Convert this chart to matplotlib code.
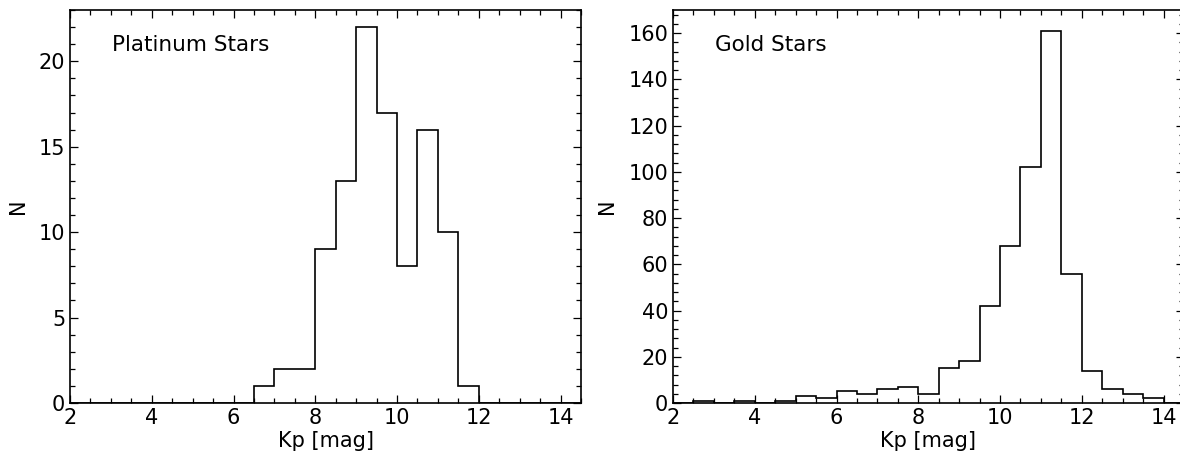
import numpy as np
import matplotlib
matplotlib.use("Agg")
import matplotlib.pyplot as plt
from matplotlib.ticker import MultipleLocator

bin_edges = np.arange(2.0, 14.51, 0.5)

# Counts per 0.5 mag bin starting at Kp = 2.0
platinum_counts = [0, 0, 0, 0, 0, 0, 0, 0, 0,   # 2.0 - 6.5
                   1, 2, 2, 9, 13, 22, 17, 8, 16, 10, 1,  # 6.5 - 12.0
                   0, 0, 0, 0, 0]               # 12.0 - 14.5
gold_counts = [0, 1, 0, 1, 0, 1, 3, 2, 5, 4, 6, 7, 4, 15, 18, 42, 68, 102, 161, 56,
               14, 6, 4, 2, 0]

panel_titles = ["Platinum Stars", "Gold Stars"]
xlabel = "Kp [mag]"
ylabel = "N"

plt.rcParams['font.family'] = ['DejaVu Sans']
plt.rcParams['font.size'] = 15

fig = plt.figure(figsize=(11.8, 4.58), dpi=100)
W, H = 1180, 458
ax1 = fig.add_axes([70 / W, 55 / H, 511 / W, 393 / H])
ax2 = fig.add_axes([673 / W, 55 / H, 511 / W, 393 / H])

configs = [
    (ax1, platinum_counts, 23, 5, 1, panel_titles[0]),
    (ax2, gold_counts, 170, 20, 4, panel_titles[1]),
]

centers = 0.5 * (bin_edges[:-1] + bin_edges[1:])
for ax, counts, ymax, ymaj, ymin, title in configs:
    ax.hist(centers, bins=bin_edges, weights=counts, histtype='step',
            color='black', linewidth=1.2)
    ax.set_xlim(2, 14.5)
    ax.set_ylim(0, ymax)
    ax.xaxis.set_major_locator(MultipleLocator(2))
    ax.xaxis.set_minor_locator(MultipleLocator(0.5))
    ax.yaxis.set_major_locator(MultipleLocator(ymaj))
    ax.yaxis.set_minor_locator(MultipleLocator(ymin))
    ax.tick_params(which='both', direction='in', top=True, right=True,
                   labelsize=15, width=0.9)
    ax.tick_params(which='major', length=6)
    ax.tick_params(which='minor', length=3.5)
    for s in ax.spines.values():
        s.set_linewidth(1.2)
    ax.set_xlabel(xlabel, fontsize=15, labelpad=2)
    ax.set_ylabel(ylabel, fontsize=15, labelpad=8)
    ax.text(0.082, 0.91, title, transform=ax.transAxes, fontsize=15.5,
            ha='left', va='center')

fig.savefig("out.png", dpi=100)
